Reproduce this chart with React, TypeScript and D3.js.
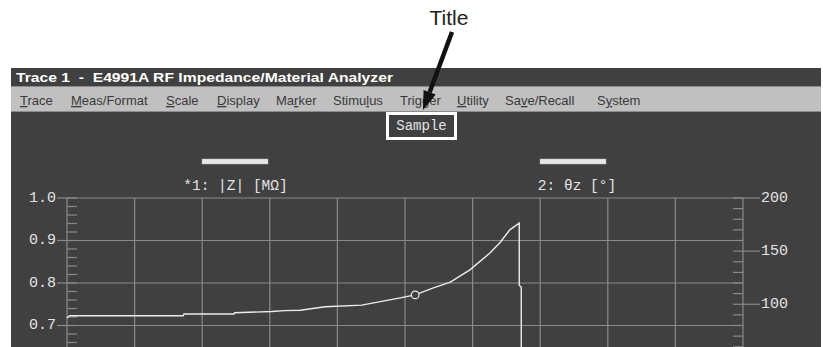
import * as React from 'react';
import * as d3 from 'd3';

// trace 1 |Z|, x in grid divisions
const tracePos = [0, 0.04, 1.72, 1.73, 2.47, 2.48, 3.03, 3.22, 3.45, 3.82, 4.36, 4.93, 5.15, 5.41, 5.67, 5.96, 6.26, 6.41, 6.55, 6.69, 6.69, 6.72, 6.72];
const traceZ = [0.718, 0.723, 0.723, 0.727, 0.727, 0.73, 0.733, 0.735, 0.736, 0.744, 0.748, 0.765, 0.772, 0.788, 0.802, 0.831, 0.871, 0.896, 0.925, 0.941, 0.795, 0.79, 0.4];
const markerPos = 5.15;

// only the labels that are on screen in the reference
const leftTicks = [1.0, 0.9, 0.8, 0.7];
const rightTicks = [200, 150, 100];
const menuItems = ['Trace', 'Meas/Format', 'Scale', 'Display', 'Marker', 'Stimulus', 'Trigger', 'Utility', 'Save/Recall', 'System'];
const menuAccel = [0, 0, 0, 0, 2, 5, 3, 0, 2, 1];
const menuX = [20, 71, 166, 217, 276, 333, 400, 457, 505, 597];

const W = 823;
const H = 347;
const BG = '#404040';
const GRID = '#8a8a8a';
const TXT = '#e4e4e4';
const MONO = '"Liberation Mono", "DejaVu Sans Mono", monospace';
const SANS = '"Liberation Sans", Arial, sans-serif';

export default function App() {
  const x = d3.scaleLinear().domain([0, 10]).range([67, 743]);
  const yL = d3.scaleLinear().domain([1.0, 0.0]).range([198, 623]);
  const yR = d3.scaleLinear().domain([200, -200]).range([198, 623]);

  const line = d3
    .line<number>()
    .x((_d, i) => x(tracePos[i]))
    .y((d) => yL(d));

  const gridY = yL.ticks(10);
  const leftMinor = d3.range(0, 1.0001, 0.02);
  const rightMajor = yR.ticks(8);
  const rightMinor = d3.range(-200, 200.01, 10).filter((v) => v % 50 !== 0);

  const mi = tracePos.indexOf(markerPos);

  // arrow from "Title" down to the title box
  const tail = [452, 32];
  const tip = [423, 110];
  const len = Math.hypot(tip[0] - tail[0], tip[1] - tail[1]);
  const ux = (tip[0] - tail[0]) / len;
  const uy = (tip[1] - tail[1]) / len;
  const bx = tip[0] - 19 * ux;
  const by = tip[1] - 19 * uy;
  const head = [
    [tip[0], tip[1]],
    [bx - 6.5 * uy, by + 6.5 * ux],
    [bx + 6.5 * uy, by - 6.5 * ux],
  ];

  return (
    <svg
      width={W}
      height={H}
      style={{ position: 'absolute', left: 0, top: 0, background: '#fff' }}
    >
      {/* annotation */}
      <text x={449} y={25} textAnchor="middle" fontFamily={SANS} fontSize={21} fill="#222">
        Title
      </text>

      {/* window frame */}
      <rect x={11} y={68} width={810} height={H - 68} fill={BG} />
      <text
        x={16}
        y={81.5}
        fontFamily={SANS}
        fontWeight="bold"
        fontSize={13.5}
        fill="#fff"
        textLength={377}
        lengthAdjust="spacingAndGlyphs"
        style={{ whiteSpace: 'pre' }}
      >
        {'Trace 1  -  E4991A RF Impedance/Material Analyzer'}
      </text>
      <rect x={11} y={86} width={810} height={26} fill="#c0c0c0" />
      <line x1={11} x2={821} y1={86.5} y2={86.5} fill="none" stroke="#8c8c8c" />
      <line x1={11} x2={821} y1={111.5} y2={111.5} fill="none" stroke="#8c8c8c" />
      {menuItems.map((m, i) => (
        <text key={m} x={menuX[i]} y={105} fontFamily={SANS} fontSize={13} fill="#3a3a3a">
          {m.slice(0, menuAccel[i])}
          <tspan textDecoration="underline">{m[menuAccel[i]]}</tspan>
          {m.slice(menuAccel[i] + 1)}
        </text>
      ))}

      {/* title box */}
      <rect x={387.5} y={113.5} width={68} height={25} fill={BG} stroke="#fff" strokeWidth={3} />
      <text x={421.5} y={130} textAnchor="middle" fontFamily={MONO} fontSize={14} fill={TXT}>
        Sample
      </text>

      {/* legend */}
      <rect x={202} y={159} width={66} height={5} fill="#e6e6e6" stroke="#bbb" strokeWidth={0.5} />
      <rect x={540} y={159} width={66} height={5} fill="#e6e6e6" stroke="#bbb" strokeWidth={0.5} />
      <text x={235.5} y={186} textAnchor="middle" dominantBaseline="central" fontFamily={MONO} fontSize={14.5} fill={TXT}>
        *1: |Z| [MΩ]
      </text>
      <text x={577} y={186} textAnchor="middle" dominantBaseline="central" fontFamily={MONO} fontSize={14.5} fill={TXT}>
        2: θz [°]
      </text>

      {/* grid */}
      <g stroke={GRID} strokeWidth={1.2} fill="none">
        {d3.range(0, 11).map((d) => (
          <line key={'v' + d} x1={x(d)} x2={x(d)} y1={yL(1)} y2={H} />
        ))}
        {gridY.map((t) => (
          <line key={'h' + t} x1={x(0)} x2={x(10)} y1={yL(t)} y2={yL(t)} />
        ))}
      </g>

      {/* left axis */}
      <g stroke={GRID} strokeWidth={1.2}>
        {gridY.map((t) => (
          <line key={'lt' + t} x1={57} x2={x(0)} y1={yL(t)} y2={yL(t)} />
        ))}
        {leftMinor.map((t) => (
          <line key={'lm' + t} x1={x(0)} x2={x(0) + 10} y1={yL(t)} y2={yL(t)} />
        ))}
      </g>
      {leftTicks.map((t) => (
        <text key={'ll' + t} x={56} y={yL(t)} textAnchor="end" dominantBaseline="central" fontFamily={MONO} fontSize={15} fill={TXT}>
          {d3.format('.1f')(t)}
        </text>
      ))}

      {/* right axis */}
      <g stroke={GRID} strokeWidth={1.2}>
        {rightMajor.map((t) => (
          <line key={'rt' + t} x1={x(10) - 10} x2={760} y1={yR(t)} y2={yR(t)} />
        ))}
        {rightMinor.map((t) => (
          <line key={'rm' + t} x1={x(10) - 10} x2={x(10)} y1={yR(t)} y2={yR(t)} />
        ))}
      </g>
      {rightTicks.map((t) => (
        <text key={'rl' + t} x={761} y={yR(t)} dominantBaseline="central" fontFamily={MONO} fontSize={15} fill={TXT}>
          {t}
        </text>
      ))}

      {/* trace */}
      <path d={line(traceZ) ?? ''} fill="none" stroke="#ececec" strokeWidth={1.4} />
      <circle cx={x(tracePos[mi])} cy={yL(traceZ[mi])} r={3.8} fill={BG} stroke="#ececec" strokeWidth={1.2} />

      {/* arrow */}
      <line x1={tail[0]} y1={tail[1]} x2={bx} y2={by} stroke="#111" strokeWidth={4.5} />
      <polygon points={head.map((p) => p.join(',')).join(' ')} fill="#111" />
    </svg>
  );
}
